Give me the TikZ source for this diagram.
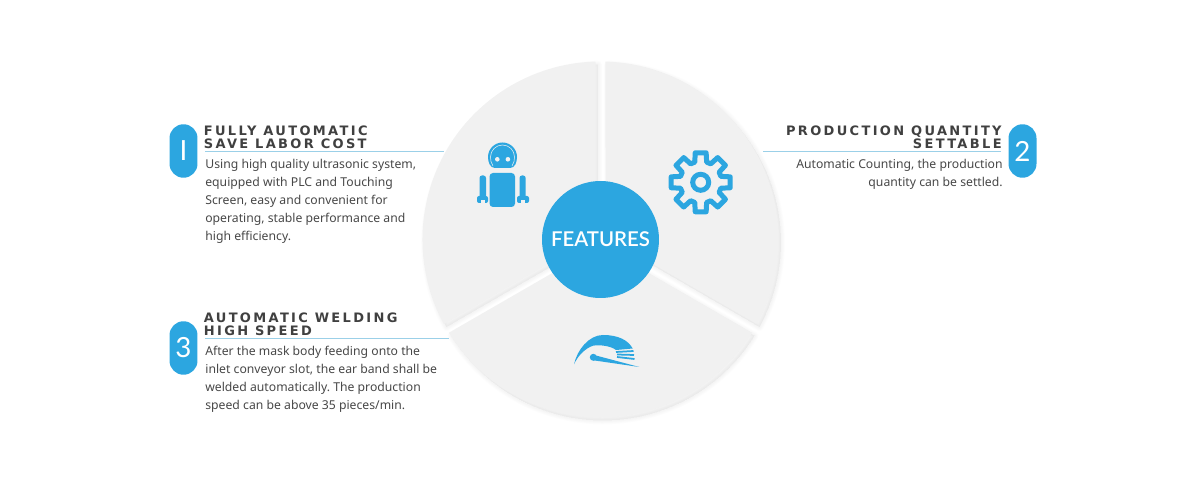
\documentclass[tikz,border=0pt]{standalone}
\usepackage{fontspec}
\setmainfont{Noto Sans}
\newfontfamily\headfont[LetterSpace=18]{DejaVu Sans}
\newfontfamily\hubfont{Lato Semibold}
\newfontfamily\numfont{Lato}
\usepackage{tikz}
\definecolor{featblue}{HTML}{2CA6E0}
\definecolor{sectorgray}{HTML}{F1F1F1}
\definecolor{rulecolor}{HTML}{9BD0E8}
\newcommand{\sectorpath}[2]{({(#1+#2)/2}:5.8) -- (#1:178) arc[start angle=#1,end angle=#2,radius=178] -- cycle}
\tikzset{
  numpill/.style={fill=featblue, text=white, rounded corners=.28cm, minimum width=.56cm, minimum height=1.07cm, inner sep=0pt, font=\numfont\fontsize{15.8}{16}\selectfont},
  headtext/.style={inner sep=0pt, text=black!75, font=\headfont\bfseries\fontsize{7.4}{7.1}\selectfont},
  bodytext/.style={inner sep=0pt, text=black!72, font=\frenchspacing\fontsize{6.95}{10.25}\selectfont},
  headrule/.style={draw=rulecolor, line width=.4pt},
  icon/.style={fill=featblue, draw=none}
}
\begin{document}
\begin{tikzpicture}[x=0.02cm,y=-0.02cm]
\useasboundingbox (0,0) rectangle (1201,479);
%sectors
\begin{scope}[shift={(600.5,239.5)}]
\foreach \a/\b in {-88.4/28.4, 31.6/148.4, 151.6/268.4}{
  \foreach \w in {8,6.5,5,3.5,2}{
    \pgfmathsetmacro{\lw}{\w*.02}
    \filldraw[black, opacity=.008, line join=round, line width=\lw cm, shift={(2.5,3)}] \sectorpath{\a}{\b};
  }
}
\fill[sectorgray] \sectorpath{-88.4}{28.4};
\fill[sectorgray] \sectorpath{31.6}{148.4};
\fill[sectorgray] \sectorpath{151.6}{268.4};
\end{scope}
\node (hub) at (600.5,239.5) [circle, fill=featblue, text=white, minimum size=2.34cm, inner sep=0pt, font=\hubfont\fontsize{11.6}{12}\selectfont] {FEATURES};
%pills
\node (numA) at (183.5,151) [numpill] {I};
\node (numB) at (1022.5,151) [numpill] {2};
\node (numC) at (183.5,348) [numpill] {3};
%headings
\node (headA) at (203.5,126) [headtext, anchor=north west, align=left] {FULLY AUTOMATIC\\SAVE LABOR COST};
\node (headB) at (1002,126) [headtext, anchor=north east, align=right] {PRODUCTION QUANTITY\\SETTABLE};
\node (headC) at (203.5,313) [headtext, anchor=north west, align=left] {AUTOMATIC WELDING\\HIGH SPEED};
%rules
\coordinate (ruleAa) at (205,151.5);
\coordinate (ruleAb) at (444,151.5);
\coordinate (ruleBa) at (1001,151.5);
\coordinate (ruleBb) at (763,151.5);
\coordinate (ruleCa) at (205,338.5);
\coordinate (ruleCb) at (449,338.5);
\draw[headrule] (ruleAa) -- (ruleAb);
\draw[headrule] (ruleBa) -- (ruleBb);
\draw[headrule] (ruleCa) -- (ruleCb);
%body
\node (bodyA) at (205,158.5) [bodytext, anchor=north west, align=left] {Using high quality ultrasonic system,\\equipped with PLC and Touching\\Screen, easy and convenient for\\operating, stable performance and\\high efficiency.};
\node (bodyB) at (1003,158.5) [bodytext, anchor=north east, align=right] {Automatic Counting, the production\\quantity can be settled.};
\node (bodyC) at (205,345.5) [bodytext, anchor=north west, align=left] {After the mask body feeding onto the\\inlet conveyor slot, the ear band shall be\\welded automatically. The production\\speed can be above 35 pieces/min.};
%robot
\fill[icon] (488,157) arc[start angle=180,end angle=360,radius=14.5] .. controls (517,162) and (515,168) .. (510,168) -- (495,168) .. controls (490,168) and (488,162) .. (488,157) -- cycle;
\draw[sectorgray, line width=.3pt] (493,166) .. controls (491,163) and (490.5,160) .. (490.5,157) arc[start angle=180,end angle=360,radius=12] .. controls (514.5,160) and (514,163) .. (512,166);
\fill[sectorgray] (497.3,159.3) circle (2.3);
\fill[sectorgray] (507.9,159.3) circle (2.3);
\fill[icon, rounded corners=.07cm] (489.5,173) rectangle (515,207);
\fill[icon, rounded corners=.05cm] (479.5,175.5) rectangle (486,198);
\fill[icon, rounded corners=.05cm] (519.5,175.5) rectangle (525.7,198);
\fill[icon, rounded corners=.04cm] (477,196) rectangle (488,203);
\fill[icon, rounded corners=.04cm] (517,196) rectangle (529,203);
\fill[sectorgray] (481,200.5) rectangle (484.5,203.5);
\fill[sectorgray] (521,200.5) rectangle (525,203.5);
%gear
\begin{scope}[shift={(700.7,182.3)}]
\draw[featblue, line width=.1cm, line join=round] (-16.4:21)
  \foreach \a in {0,45,...,315}{
    -- ({\a-16.4}:21) -- ({\a-10.5}:30) -- ({\a+10.5}:30) -- ({\a+16.4}:21)
  } -- cycle;
\draw[featblue, line width=.1cm] (0,0) circle (8);
\end{scope}
%gauge
\fill[icon] (574,364.5) .. controls (577,350) and (589,335) .. (603,335) .. controls (618,335) and (628,340) .. (632.7,348.5) -- (616,350) .. controls (611,346) and (600,344.5) .. (593,345.7) .. controls (586,348) and (578,355) .. (574,364.5) -- cycle;
\draw[featblue, line width=.035cm] (616,352) -- (633.5,351);
\draw[featblue, line width=.035cm] (617,354.5) -- (634,355);
\draw[featblue, line width=.035cm] (617,357) -- (634.5,359);
\fill[icon] (593.3,357.3) circle (3.5);
\fill[icon] (593.3,354.8) -- (639.3,367) -- (593.3,360.3) -- cycle;
\end{tikzpicture}
\end{document}
